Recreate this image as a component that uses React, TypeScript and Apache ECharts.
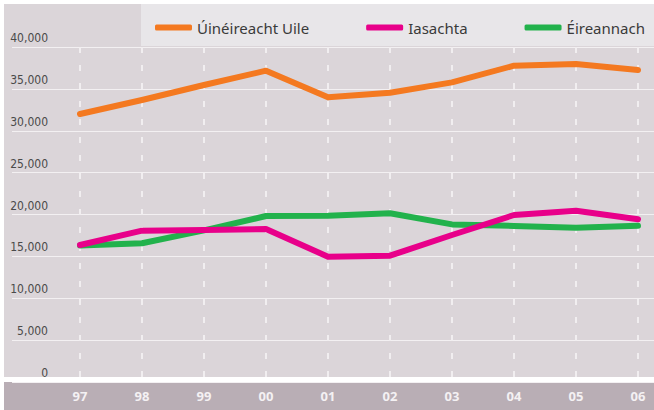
import React, { useEffect, useRef } from "react";
import * as echarts from "echarts";

const years = ["97", "98", "99", "00", "01", "02", "03", "04", "05", "06"];
const yTicks = [0, 5000, 10000, 15000, 20000, 25000, 30000, 35000, 40000];
const totalName = "Úinéireacht Uile";
const foreignName = "Iasachta";
const irishName = "Éireannach";
const totalValues = [32000, 33670, 35460, 37170, 34000, 34540, 35780, 37770, 37970, 37250];
const foreignValues = [16360, 18070, 18150, 18270, 14960, 15080, 17550, 19940, 20450, 19430];
const irishValues = [16300, 16560, 18100, 19820, 19860, 20140, 18820, 18630, 18430, 18660];

const ORANGE = "#f47920";
const MAGENTA = "#e8008a";
const GREEN = "#22b24c";

export default function App() {
  const ref = useRef<HTMLDivElement>(null);
  useEffect(() => {
    if (!ref.current) return;
    const chart = echarts.init(ref.current, null, { renderer: "svg" });
    const fmt = (v: number) => (v === 0 ? "0" : v.toLocaleString("en-US"));
    const line = (name: string, data: number[], color: string) => ({
      type: "line",
      name,
      data,
      xAxisIndex: 1,
      yAxisIndex: 1,
      symbol: "none",
      lineStyle: { color, width: 6, cap: "round", join: "round" },
      itemStyle: { color },
      z: 5,
    });
    chart.setOption({
      animation: false,
      backgroundColor: "#ffffff",
      graphic: [
        { type: "rect", z: -100, silent: true, shape: { x: 4, y: 4, width: 650, height: 373 }, style: { fill: "#dbd5d9" } },
        { type: "rect", z: -99, silent: true, shape: { x: 141, y: 4, width: 513, height: 42 }, style: { fill: "#e8e6e9" } },
        { type: "rect", z: -100, silent: true, shape: { x: 4, y: 382, width: 650, height: 28 }, style: { fill: "#b9aeb5" } },
      ],
      legend: {
        data: [totalName, foreignName, irishName],
        left: 150,
        top: 15,
        width: 600,
        icon: "roundRect",
        itemWidth: 37,
        itemHeight: 6,
        itemGap: 57,
        textStyle: { color: "#3a3a3a", fontSize: 15, fontFamily: "Noto Sans" },
      },
      grid: [
        { left: 12, right: 0, top: 47, bottom: 28 },
        { left: 80, right: 16, top: 47, bottom: 28 },
      ],
      xAxis: [
        { type: "value", gridIndex: 0, min: 0, max: 1, show: false },
        {
          type: "category",
          gridIndex: 1,
          data: years,
          boundaryGap: false,
          axisLine: { show: false },
          axisTick: { show: false },
          axisLabel: { color: "#f4f1f3", fontSize: 13, fontWeight: "bold", fontFamily: "Open Sans", margin: 7 },
          splitLine: { show: true, lineStyle: { color: "#f1eef0", width: 2, type: [6, 12] } },
        },
      ],
      yAxis: [
        {
          type: "value",
          gridIndex: 0,
          min: 0,
          max: 40000,
          interval: 5000,
          axisLine: { show: false },
          axisTick: { show: false },
          axisLabel: {
            inside: true,
            align: "right",
            margin: 36,
            verticalAlign: "bottom",
            padding: [0, 0, 3, 0],
            color: "#4a4a4a",
            fontSize: 12,
            fontFamily: "DejaVu Sans Condensed",
            formatter: (v: number) => (yTicks.includes(v) ? fmt(v) : ""),
          },
          splitLine: { show: true, lineStyle: { color: "#f3f0f2", width: 1 } },
        },
        {
          type: "value",
          gridIndex: 1,
          min: 0,
          max: 40000,
          interval: 5000,
          show: false,
          splitLine: { show: false },
        },
      ],
      series: [
        line(totalName, totalValues, ORANGE),
        line(irishName, irishValues, GREEN),
        line(foreignName, foreignValues, MAGENTA),
      ],
    });
    return () => chart.dispose();
  }, []);
  return <div ref={ref} style={{ position: "fixed", left: 0, top: 0, width: 654, height: 410 }} />;
}
